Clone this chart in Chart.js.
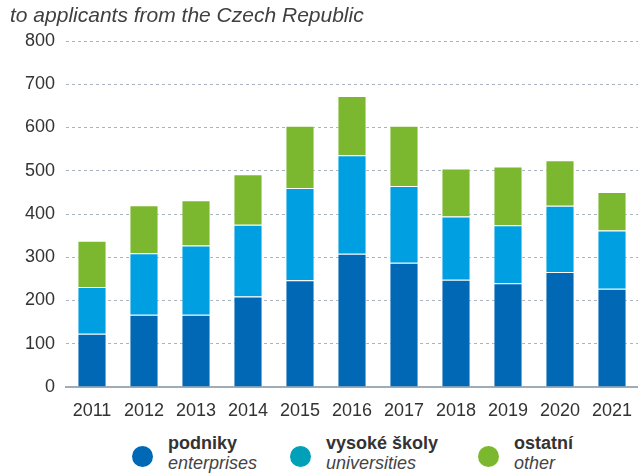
<!DOCTYPE html>
<html>
<head>
<meta charset="utf-8">
<script src="https://cdn.jsdelivr.net/npm/chart.js@4"></script>
<style>
    body { margin: 0; background: #fff; font-family: "Liberation Sans", Arial, sans-serif; }
    #wrap { position: relative; width: 638px; height: 473px; overflow: hidden; }
    #subtitle { position: absolute; left: 10px; top: 3px; font-size: 21px; font-style: italic; color: #404040; white-space: nowrap; }
    #chart { position: absolute; left: 0; top: 0; }
    .leg { position: absolute; top: 429px; }
    .leg .dot { position: absolute; width: 21px; height: 21px; border-radius: 50%; left: 0; top: 17px; }
    .leg .cz { position: absolute; left: 36px; top: 4px; font-weight: bold; font-size: 18px; color: #333; white-space: nowrap; }
    .leg .en { position: absolute; left: 36px; top: 24px; font-style: italic; font-size: 18px; color: #444; white-space: nowrap; }
</style>
</head>
<body>
<div id="wrap">
    <canvas id="chart" width="638" height="430"></canvas>
    <div id="subtitle">to applicants from the Czech Republic</div>
    <div class="leg" style="left:132px"><div class="dot" style="background:#0068b4"></div><div class="cz">podniky</div><div class="en">enterprises</div></div>
    <div class="leg" style="left:290px"><div class="dot" style="background:#00a0b8"></div><div class="cz">vysoké školy</div><div class="en">universities</div></div>
    <div class="leg" style="left:478px"><div class="dot" style="background:#7cb82f"></div><div class="cz">ostatní</div><div class="en">other</div></div>
</div>
<script>
// data
var years = ["2011", "2012", "2013", "2014", "2015", "2016", "2017", "2018", "2019", "2020", "2021"];
var enterprises = [123, 167, 167, 209, 247, 308, 287, 248, 240, 266, 227];
var universities = [108, 142, 160, 166, 213, 228, 178, 146, 134, 153, 135];
var other = [107, 111, 105, 117, 144, 137, 139, 111, 136, 105, 89];

var tickFont = { family: "Liberation Sans", size: 18 };

function makeSet(label, values, color) {
    return {
        label: label,
        data: values,
        backgroundColor: color,
        borderColor: "rgba(255,255,255,0.75)",
        borderWidth: 1,
        barPercentage: 0.56,
        categoryPercentage: 1
    };
}

new Chart(document.getElementById("chart").getContext("2d"), {
    type: "bar",
    data: {
        labels: years,
        datasets: [
            makeSet("podniky", enterprises, "#0068b4"),
            makeSet("vysoké školy", universities, "#009fe2"),
            makeSet("ostatní", other, "#7cb82f")
        ]
    },
    options: {
        responsive: false,
        animation: false,
        layout: { padding: { top: 41, right: 0, left: 0, bottom: 0 } },
        plugins: { legend: { display: false }, tooltip: { enabled: false } },
        scales: {
            x: {
                stacked: true,
                grid: { display: false },
                border: { display: true, color: "#9eabb8", width: 2 },
                ticks: { font: tickFont, color: "#333", padding: 5 },
                afterFit: function (scale) { scale.height = 43; }
            },
            y: {
                stacked: true,
                min: 0,
                max: 800,
                ticks: { stepSize: 100, font: tickFont, color: "#333", padding: 11 },
                grid: { color: "#a9b4bf", drawTicks: false, lineWidth: 1 },
                border: { display: false, dash: [3, 3] },
                afterFit: function (scale) { scale.width = 66; }
            }
        }
    }
});
</script>
</body>
</html>
